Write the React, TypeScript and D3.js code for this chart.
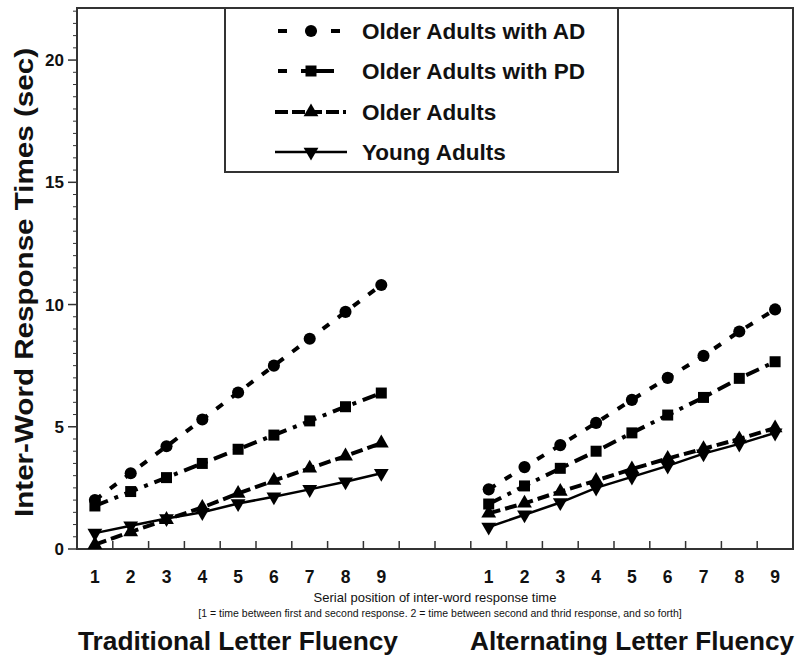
import React from "react";
import * as d3 from "d3";

const W = 808;
const H = 656;

const positionLabels = ["1", "2", "3", "4", "5", "6", "7", "8", "9"];
const gapSlots = ["gapA", "gapB"];
const yMajorTicks = [0, 5, 10, 15, 20];

const seriesNames = ["Older Adults with AD", "Older Adults with PD", "Older Adults", "Young Adults"];

// Traditional letter fluency
const tradAD = [2.0, 3.1, 4.2, 5.3, 6.4, 7.5, 8.6, 9.7, 10.8];
const tradPD = [1.76, 2.35, 2.92, 3.5, 4.08, 4.66, 5.24, 5.82, 6.38];
const tradOA = [0.18, 0.7, 1.2, 1.7, 2.27, 2.8, 3.3, 3.8, 4.33];
const tradYA = [0.65, 0.95, 1.25, 1.5, 1.86, 2.14, 2.44, 2.75, 3.1];
// Alternating letter fluency
const altAD = [2.44, 3.35, 4.25, 5.16, 6.1, 7.0, 7.9, 8.9, 9.8];
const altPD = [1.84, 2.58, 3.3, 4.0, 4.75, 5.48, 6.2, 6.98, 7.66];
const altOA = [1.46, 1.87, 2.35, 2.8, 3.27, 3.7, 4.1, 4.5, 4.95];
const altYA = [0.9, 1.4, 1.9, 2.5, 2.95, 3.4, 3.9, 4.3, 4.75];

const FONT = "'Liberation Sans', Arial, Helvetica, sans-serif";

const styles = [
  { dash: "8,11", width: 4, symbol: d3.symbolCircle, size: 115, rot: 0, legDash: "9,44,9", lx0: 278, lx1: 340 },
  { dash: "14,7,4,7", width: 4, symbol: d3.symbolSquare, size: 121, rot: 0, legDash: "9,14,60", lx0: 278, lx1: 334 },
  { dash: "12,5", width: 4, symbol: d3.symbolTriangle, size: 95, rot: 0, legDash: "13,4", lx0: 275, lx1: 346 },
  { dash: "", width: 2.5, symbol: d3.symbolTriangle, size: 95, rot: 180, legDash: "", lx0: 275, lx1: 347 },
];

export default function App() {
  const left = 77, right = 793, top = 8, bottom = 549;
  const tradKeys = positionLabels.map((p) => "T" + p);
  const altKeys = positionLabels.map((p) => "A" + p);
  const slots = [...tradKeys, ...gapSlots, ...altKeys];
  const x = d3.scaleBand<string>().domain(slots).range([left, right]).padding(0);
  const y = d3.scaleLinear().domain([0, 22.13]).range([bottom, top]);
  const cx = (k: string) => (x(k) as number) + x.bandwidth() / 2;

  const panels = [
    { keys: tradKeys, series: [tradAD, tradPD, tradOA, tradYA] },
    { keys: altKeys, series: [altAD, altPD, altOA, altYA] },
  ];

  const line = (keys: string[]) =>
    d3
      .line<number>()
      .x((_, i) => cx(keys[i]))
      .y((v) => y(v));

  const minorTicks = d3.range(0, 22.01, 0.5).filter((v) => v % 5 !== 0);
  const xTickBounds = d3.range(1, slots.length).map((i) => left + i * x.bandwidth());

  const legendMarkX = 311;
  const legendRows = [31, 71, 112, 152];

  const axisColor = "#333";

  return (
    <div style={{ position: "absolute", left: 0, top: 0 }}>
      <svg width={W} height={H} style={{ display: "block", background: "#fff" }}>
        {/* frame */}
        <rect x={left} y={top} width={right - left} height={bottom - top} fill="none" stroke={axisColor} strokeWidth={2} />

        {/* y ticks */}
        {minorTicks.map((v) => (
          <line key={"m" + v} x1={left - 4} x2={left} y1={y(v)} y2={y(v)} stroke={axisColor} strokeWidth={1} />
        ))}
        {yMajorTicks.map((v) => (
          <g key={"M" + v}>
            <line x1={left - 9} x2={left} y1={y(v)} y2={y(v)} stroke={axisColor} strokeWidth={1.5} />
            <text x={64} y={y(v)} dy="0.36em" textAnchor="end" fontFamily={FONT} fontWeight="bold" fontSize={17} fill="#111">
              {v}
            </text>
          </g>
        ))}

        {/* x ticks (inward) */}
        {xTickBounds.map((xv, i) => (
          <line key={"xt" + i} x1={xv} x2={xv} y1={bottom} y2={bottom - 8} stroke={axisColor} strokeWidth={1.5} />
        ))}
        {[...tradKeys, ...altKeys].map((k) => (
          <text key={"xl" + k} x={cx(k)} y={583} textAnchor="middle" fontFamily={FONT} fontWeight="bold" fontSize={17.5} fill="#111">
            {k.slice(1)}
          </text>
        ))}

        {/* series */}
        {panels.map((p, pi) =>
          p.series.map((vals, si) => {
            const st = styles[si];
            const sym = d3.symbol().type(st.symbol).size(st.size)() as string;
            return (
              <g key={`s${pi}-${si}`}>
                <path
                  d={line(p.keys)(vals) as string}
                  fill="none"
                  stroke="#000"
                  strokeWidth={st.width}
                  strokeDasharray={st.dash || undefined}
                />
                {vals.map((v, i) => (
                  <path
                    key={i}
                    d={sym}
                    transform={`translate(${cx(p.keys[i])},${y(v)}) rotate(${st.rot})`}
                    fill="#000"
                  />
                ))}
              </g>
            );
          })
        )}

        {/* legend */}
        <rect x={225} y={top} width={393} height={164} fill="#fff" stroke={axisColor} strokeWidth={2} />
        {seriesNames.map((name, i) => {
          const st = styles[i];
          const sym = d3.symbol().type(st.symbol).size(st.size)() as string;
          const ly = legendRows[i];
          return (
            <g key={"lg" + i}>
              <line x1={st.lx0} x2={st.lx1} y1={ly} y2={ly} stroke="#000" strokeWidth={st.width} strokeDasharray={st.legDash || undefined} />
              <path d={sym} transform={`translate(${legendMarkX},${ly}) rotate(${st.rot})`} fill="#000" />
              <text x={362} y={ly} dy="0.36em" fontFamily={FONT} fontWeight="bold" fontSize={22.5} fill="#111">
                {name}
              </text>
            </g>
          );
        })}

        {/* y axis label */}
        <text
          transform={`translate(33,${(517 + 48) / 2}) rotate(-90)`}
          textAnchor="middle"
          fontFamily={FONT}
          fontWeight="bold"
          fontSize={25}
          fill="#111"
          textLength={469}
          lengthAdjust="spacingAndGlyphs"
        >
          Inter-Word Response Times (sec)
        </text>

        {/* x axis titles */}
        <text x={435} y={602} textAnchor="middle" fontFamily={FONT} fontSize={13} fill="#111">
          Serial position of inter-word response time
        </text>
        <text x={440} y={617} textAnchor="middle" fontFamily={FONT} fontSize={10.5} fill="#111">
          [1 = time between first and second response. 2 = time between second and thrid response, and so forth]
        </text>
        <text x={238} y={650} textAnchor="middle" fontFamily={FONT} fontWeight="bold" fontSize={25.5} fill="#111" textLength={320} lengthAdjust="spacingAndGlyphs">
          Traditional Letter Fluency
        </text>
        <text x={632} y={650} textAnchor="middle" fontFamily={FONT} fontWeight="bold" fontSize={25.5} fill="#111" textLength={324} lengthAdjust="spacingAndGlyphs">
          Alternating Letter Fluency
        </text>
      </svg>
    </div>
  );
}
